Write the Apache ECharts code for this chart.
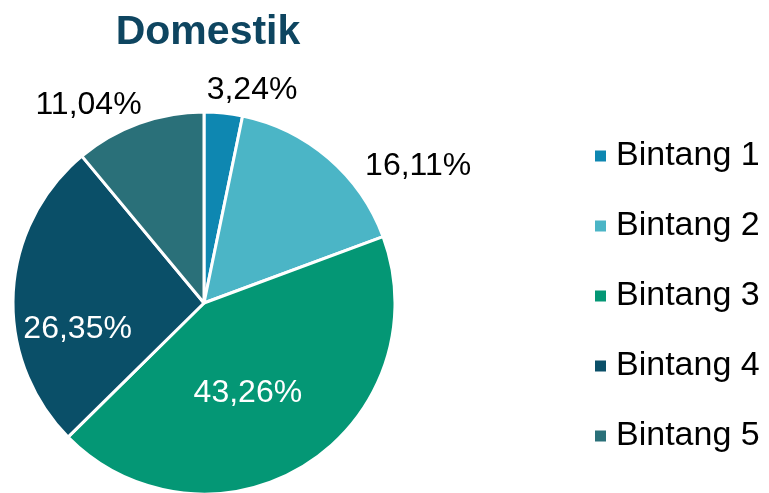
<!DOCTYPE html>
<html>
<head>
<meta charset="utf-8">
<script src="https://cdn.jsdelivr.net/npm/echarts@6/dist/echarts.min.js"></script>
<style>
  html, body { margin: 0; padding: 0; background: #fff; }
  #chart { width: 769px; height: 493px; }
</style>
</head>
<body>
<div id="chart"></div>
<script>
// Hotel star-rating shares, domestic guests
const categories = ['Bintang 1', 'Bintang 2', 'Bintang 3', 'Bintang 4', 'Bintang 5'];
const shares = [3.24, 16.11, 43.26, 26.35, 11.04];
const colors = ['#0e87b1', '#4bb5c6', '#049775', '#0a4f68', '#2a7079'];
// label placement per slice: offset from the slice's inner anchor, and text colour
const labelOffsets = [[38, -115], [150, -62], [-9, 7], [-28, 31], [-82, -105]];
const labelColors = ['#000', '#000', '#fff', '#fff', '#000'];

const chart = echarts.init(document.getElementById('chart'));
const fmt = v => v.toFixed(2).replace('.', ',') + '%';

chart.setOption({
  animation: false,
  title: {
    text: 'Domestik',
    left: 203,
    top: 7,
    textAlign: 'center',
    textStyle: { fontFamily: 'Liberation Sans, Arial', fontSize: 41, fontWeight: 'bold', color: '#0e4560' }
  },
  legend: {
    orient: 'vertical',
    left: 593,
    top: 139,
    padding: 0,
    icon: 'rect',
    itemWidth: 13,
    itemHeight: 13,
    itemGap: 36,
    data: categories,
    textStyle: { fontFamily: 'Liberation Sans, Arial', fontSize: 34, lineHeight: 34, color: '#000', padding: [0, 0, 0, 4] }
  },
  series: [{
    type: 'pie',
    center: [204, 303],
    radius: [0, 191],
    startAngle: 90,
    clockwise: true,
    itemStyle: { borderColor: '#fff', borderWidth: 3 },
    labelLine: { show: false },
    emphasis: { disabled: true },
    data: categories.map((name, i) => ({
      name: name,
      value: shares[i],
      itemStyle: { color: colors[i] },
      label: {
        show: true,
        position: 'inside',
        offset: labelOffsets[i],
        formatter: () => fmt(shares[i]),
        fontFamily: 'Liberation Sans, Arial',
        fontSize: 32,
        color: labelColors[i],
        textBorderWidth: 0
      }
    }))
  }]
});
</script>
</body>
</html>
